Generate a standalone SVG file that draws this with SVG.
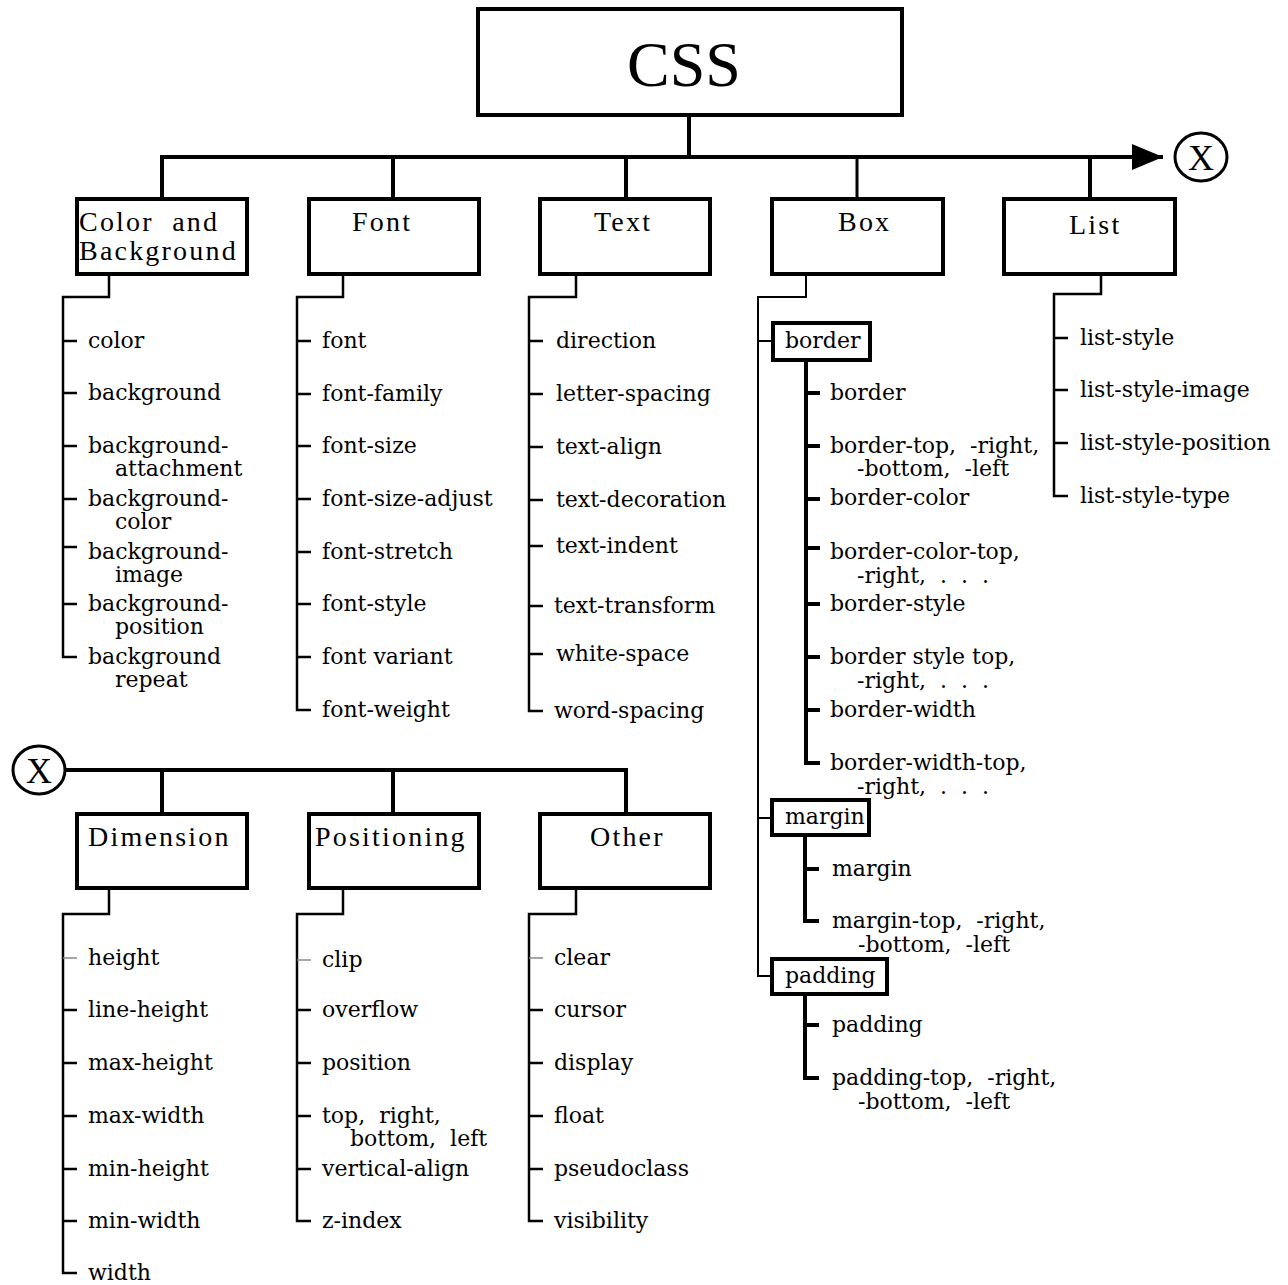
<svg xmlns="http://www.w3.org/2000/svg" width="1288" height="1285" viewBox="0 0 1288 1285">
  <style>
    text { white-space: pre; }
    .box { fill: #fff; stroke: #000; stroke-width: 4; }
    .sub { fill: #fff; stroke: #000; stroke-width: 4; }
    .head { font-family: "Liberation Serif", serif; font-size: 28px; letter-spacing: 2.2px; fill: #000; }
    .title { font-family: "Liberation Serif", serif; font-size: 64px; fill: #000; }
    .mark { font-family: "Liberation Serif", serif; font-size: 36px; fill: #000; }
    .item { font-family: "DejaVu Serif", serif; font-size: 22px; fill: #000; }
    .bus { fill: none; stroke: #000; stroke-width: 4; }
    .tree { fill: none; stroke: #000; stroke-width: 2.5; }
    .thin { fill: none; stroke: #000; stroke-width: 2; }
    .thick { fill: none; stroke: #000; stroke-width: 4; }
    .faint { fill: none; stroke: #888; stroke-width: 1.5; }
    .ring { fill: #fff; stroke: #000; stroke-width: 3; }
  </style>
  <defs>
    <marker id="arrow" markerUnits="userSpaceOnUse" markerWidth="32" markerHeight="28" refX="31" refY="14" orient="auto">
      <path d="M0,1 L31,14 L0,27 Z" fill="#000"/>
    </marker>
  </defs>
  <rect width="1288" height="1285" fill="#fff"/>

  <!-- connectors -->
  <g id="connectors">
    <!-- root bus -->
    <path class="bus" d="M689,115 V157"/>
    <path class="bus" d="M162,199 V157 H1163" marker-end="url(#arrow)"/>
    <path class="bus" d="M393,157 V199 M626,157 V199 M1090,157 V199"/>
    <path class="thin" style="stroke-width:3" d="M857,157 V199"/>
    <!-- continuation bus -->
    <path class="bus" d="M64,770 H626 V814 M162,770 V814 M393,770 V814"/>

    <!-- Color and Background -->
    <path class="tree" d="M109,274 V297 H63 V657 H77 M63,341 H77 M63,393 H77 M63,446 H77 M63,499 H77 M63,547 H77 M63,604 H77"/>
    <!-- Font -->
    <path class="tree" d="M343,274 V297 H297 V710 H311 M297,341 H311 M297,394 H311 M297,446 H311 M297,499 H311 M297,552 H311 M297,604 H311 M297,657 H311"/>
    <!-- Text -->
    <path class="tree" d="M576,274 V297 H529 V711 H543 M529,341 H543 M529,394 H543 M529,447 H543 M529,500 H543 M529,546 H543 M529,606 H543 M529,654 H543"/>
    <!-- Box -->
    <path class="thin" d="M806,274 V297 H758 V976 H772 M758,341 H773 M758,818 H772"/>
    <path class="thick" d="M806,360 V763 H820 M806,393 H820 M806,446 H820 M806,499 H820 M806,548 H820 M806,604 H820 M806,657 H820 M806,710 H820"/>
    <path class="thick" d="M805,835 V921 H819 M805,869 H819"/>
    <path class="thick" d="M805,994 V1078 H819 M805,1025 H819"/>
    <!-- List -->
    <path class="tree" d="M1101,274 V294 H1054 V496 H1068 M1054,338 H1068 M1054,390 H1068 M1054,443 H1068"/>

    <!-- Dimension -->
    <path class="tree" d="M109,888 V914 H63 V1273 H77 M63,1010 H77 M63,1063 H77 M63,1116 H77 M63,1169 H77 M63,1221 H77"/>
    <path class="faint" d="M63,958 H77"/>
    <!-- Positioning -->
    <path class="tree" d="M343,888 V914 H297 V1221 H311 M297,1010 H311 M297,1063 H311 M297,1116 H311 M297,1169 H311"/>
    <path class="faint" d="M297,960 H311"/>
    <!-- Other -->
    <path class="tree" d="M576,888 V914 H529 V1221 H543 M529,1010 H543 M529,1063 H543 M529,1116 H543 M529,1169 H543"/>
    <path class="faint" d="M529,958 H543"/>
  </g>

  <!-- root -->
  <g id="css">
    <rect class="box" x="478" y="9" width="424" height="106"/>
    <text class="title" x="684" y="86" text-anchor="middle">CSS</text>
  </g>

  <!-- continuation markers -->
  <g id="link-out">
    <ellipse class="ring" cx="1201" cy="157" rx="26" ry="24"/>
    <text class="mark" x="1201" y="170" text-anchor="middle">X</text>
  </g>
  <g id="link-in">
    <ellipse class="ring" cx="39" cy="770" rx="26" ry="24"/>
    <text class="mark" x="39" y="783" text-anchor="middle">X</text>
  </g>

  <!-- Color and Background -->
  <g id="color-background">
    <rect class="box" x="77" y="199" width="170" height="75"/>
    <text class="head" x="79" y="231">Color  and</text>
    <text class="head" x="79" y="260">Background</text>
  </g>
  <g id="color-background-items" class="item">
    <text x="88" y="348">color</text>
    <text x="88" y="400">background</text>
    <text x="88" y="453">background-</text>
    <text x="115" y="476">attachment</text>
    <text x="88" y="506">background-</text>
    <text x="115" y="529">color</text>
    <text x="88" y="559">background-</text>
    <text x="115" y="582">image</text>
    <text x="88" y="611">background-</text>
    <text x="115" y="634">position</text>
    <text x="88" y="664">background</text>
    <text x="115" y="687">repeat</text>
  </g>

  <!-- Font -->
  <g id="font">
    <rect class="box" x="309" y="199" width="170" height="75"/>
    <text class="head" x="352" y="231">Font</text>
  </g>
  <g id="font-items" class="item">
    <text x="322" y="348">font</text>
    <text x="322" y="401">font-family</text>
    <text x="322" y="453">font-size</text>
    <text x="322" y="506">font-size-adjust</text>
    <text x="322" y="559">font-stretch</text>
    <text x="322" y="611">font-style</text>
    <text x="322" y="664">font variant</text>
    <text x="322" y="717">font-weight</text>
  </g>

  <!-- Text -->
  <g id="text">
    <rect class="box" x="540" y="199" width="170" height="75"/>
    <text class="head" x="594" y="231">Text</text>
  </g>
  <g id="text-items" class="item">
    <text x="556" y="348">direction</text>
    <text x="556" y="401">letter-spacing</text>
    <text x="556" y="454">text-align</text>
    <text x="556" y="507">text-decoration</text>
    <text x="556" y="553">text-indent</text>
    <text x="554" y="613">text-transform</text>
    <text x="556" y="661">white-space</text>
    <text x="554" y="718">word-spacing</text>
  </g>

  <!-- Box -->
  <g id="box">
    <rect class="box" x="772" y="199" width="171" height="75"/>
    <text class="head" x="838" y="231">Box</text>
  </g>
  <g id="box-border">
    <rect class="sub" x="773" y="323" width="97" height="37"/>
    <text class="item" x="785" y="348">border</text>
  </g>
  <g id="box-border-items" class="item">
    <text x="830" y="400">border</text>
    <text x="830" y="453">border-top,  -right,</text>
    <text x="857" y="476">-bottom,  -left</text>
    <text x="830" y="505">border-color</text>
    <text x="830" y="559">border-color-top,</text>
    <text x="857" y="583">-right,  .  .  .</text>
    <text x="830" y="611">border-style</text>
    <text x="830" y="664">border style top,</text>
    <text x="857" y="688">-right,  .  .  .</text>
    <text x="830" y="717">border-width</text>
    <text x="830" y="770">border-width-top,</text>
    <text x="857" y="794">-right,  .  .  .</text>
  </g>
  <g id="box-margin">
    <rect class="sub" x="772" y="800" width="97" height="35"/>
    <text class="item" x="785" y="824">margin</text>
  </g>
  <g id="box-margin-items" class="item">
    <text x="832" y="876">margin</text>
    <text x="832" y="928">margin-top,  -right,</text>
    <text x="858" y="952">-bottom,  -left</text>
  </g>
  <g id="box-padding">
    <rect class="sub" x="772" y="959" width="115" height="35"/>
    <text class="item" x="785" y="983">padding</text>
  </g>
  <g id="box-padding-items" class="item">
    <text x="832" y="1032">padding</text>
    <text x="832" y="1085">padding-top,  -right,</text>
    <text x="858" y="1109">-bottom,  -left</text>
  </g>

  <!-- List -->
  <g id="list">
    <rect class="box" x="1004" y="199" width="171" height="75"/>
    <text class="head" x="1069" y="234">List</text>
  </g>
  <g id="list-items" class="item">
    <text x="1080" y="345">list-style</text>
    <text x="1080" y="397">list-style-image</text>
    <text x="1080" y="450">list-style-position</text>
    <text x="1080" y="503">list-style-type</text>
  </g>

  <!-- Dimension -->
  <g id="dimension">
    <rect class="box" x="77" y="814" width="170" height="74"/>
    <text class="head" x="88" y="846">Dimension</text>
  </g>
  <g id="dimension-items" class="item">
    <text x="88" y="965">height</text>
    <text x="88" y="1017">line-height</text>
    <text x="88" y="1070">max-height</text>
    <text x="88" y="1123">max-width</text>
    <text x="88" y="1176">min-height</text>
    <text x="88" y="1228">min-width</text>
    <text x="88" y="1280">width</text>
  </g>

  <!-- Positioning -->
  <g id="positioning">
    <rect class="box" x="309" y="814" width="170" height="74"/>
    <text class="head" x="315" y="846">Positioning</text>
  </g>
  <g id="positioning-items" class="item">
    <text x="322" y="967">clip</text>
    <text x="322" y="1017">overflow</text>
    <text x="322" y="1070">position</text>
    <text x="322" y="1123">top,  right,</text>
    <text x="350" y="1146">bottom,  left</text>
    <text x="322" y="1176">vertical-align</text>
    <text x="322" y="1228">z-index</text>
  </g>

  <!-- Other -->
  <g id="other">
    <rect class="box" x="540" y="814" width="170" height="74"/>
    <text class="head" x="590" y="846">Other</text>
  </g>
  <g id="other-items" class="item">
    <text x="554" y="965">clear</text>
    <text x="554" y="1017">cursor</text>
    <text x="554" y="1070">display</text>
    <text x="554" y="1123">float</text>
    <text x="554" y="1176">pseudoclass</text>
    <text x="554" y="1228">visibility</text>
  </g>
</svg>
